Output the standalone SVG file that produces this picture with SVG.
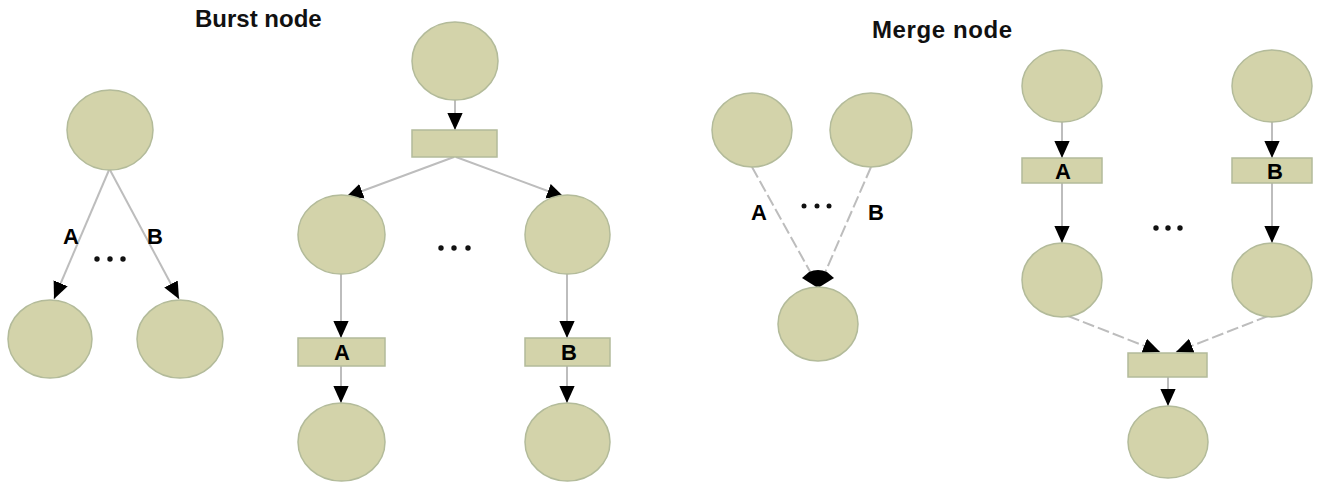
<svg xmlns="http://www.w3.org/2000/svg" width="1320" height="482" viewBox="0 0 1320 482">
<style>
.n{fill:#d3d3aa;stroke:#b3bb9a;stroke-width:1.5}
.e{fill:none;stroke:#bdbdbd;stroke-width:2;marker-end:url(#ah)}
.d{stroke-dasharray:12 4}
.t{font-family:"Liberation Sans",Arial,sans-serif;font-size:22px;font-weight:bold;fill:#000;text-anchor:middle}
.h{font-family:"Liberation Sans",Arial,sans-serif;font-size:24px;font-weight:bold;fill:#111}
.dot{fill:#111}
</style>
<defs>
<marker id="ah" markerUnits="userSpaceOnUse" markerWidth="17" markerHeight="17" viewBox="0 0 10 10" refX="10" refY="5" orient="auto">
<path d="M0,0.5 L10,5 L0,9.5 z" fill="#000"/>
</marker>
</defs>
<rect width="1320" height="482" fill="#fff"/>
<text class="h" x="195" y="27">Burst node</text>
<text class="h" x="872" y="38" style="letter-spacing:0.6px">Merge node</text>
<g id="connectors">
<line class="e" x1="109" y1="170" x2="54" y2="299"/>
<line class="e" x1="110" y1="170" x2="179" y2="299"/>
<line class="e" x1="455" y1="100" x2="455" y2="130"/>
<line class="e" x1="454" y1="157" x2="346" y2="197"/>
<line class="e" x1="456" y1="157" x2="564" y2="197"/>
<line class="e" x1="341" y1="274" x2="341" y2="338"/>
<line class="e" x1="341" y1="366" x2="341" y2="403"/>
<line class="e" x1="567" y1="274" x2="567" y2="338"/>
<line class="e" x1="567" y1="366" x2="567" y2="403"/>
<line class="d" x1="752" y1="167" x2="812" y2="275" stroke="#bdbdbd" stroke-width="2"/>
<line class="d" x1="871" y1="167" x2="824" y2="275" stroke="#bdbdbd" stroke-width="2"/>
<path d="M802,278 L809,272 Q818,268 827,272 L834,278 L818,288 z" fill="#000"/>
<line class="e" x1="1062" y1="122" x2="1062" y2="158"/>
<line class="e" x1="1272" y1="122" x2="1272" y2="158"/>
<line class="e" x1="1062" y1="183" x2="1062" y2="243"/>
<line class="e" x1="1272" y1="183" x2="1272" y2="243"/>
<line class="e d" x1="1068" y1="316" x2="1160" y2="352"/>
<line class="e d" x1="1268" y1="316" x2="1176" y2="352"/>
<line class="e" x1="1168" y1="377" x2="1168" y2="406"/>
</g>
<g id="burst1-top"><ellipse class="n" cx="110" cy="130" rx="43" ry="40"/></g>
<g id="burst1-left"><ellipse class="n" cx="50" cy="339" rx="42" ry="39"/></g>
<g id="burst1-right"><ellipse class="n" cx="180" cy="339" rx="43" ry="39"/></g>
<g id="burst1-labels">
<text class="t" x="71" y="244">A</text>
<text class="t" x="155" y="244">B</text>
<circle class="dot" cx="97" cy="259" r="2.7"/><circle class="dot" cx="110" cy="259" r="2.7"/><circle class="dot" cx="123" cy="259" r="2.7"/>
</g>
<g id="burst2-top"><ellipse class="n" cx="455" cy="61" rx="43" ry="39"/></g>
<g id="burst2-split"><rect class="n" x="412" y="130" width="85" height="27"/></g>
<g id="burst2-midleft"><ellipse class="n" cx="341.5" cy="234.5" rx="43.5" ry="39.5"/></g>
<g id="burst2-midright"><ellipse class="n" cx="567.5" cy="234.5" rx="42.5" ry="39.5"/></g>
<g id="burst2-rectA"><rect class="n" x="298" y="338" width="87" height="28"/><text class="t" x="342" y="360">A</text></g>
<g id="burst2-rectB"><rect class="n" x="525" y="338" width="85" height="28"/><text class="t" x="569" y="360">B</text></g>
<g id="burst2-botleft"><ellipse class="n" cx="341.5" cy="442" rx="43.5" ry="39"/></g>
<g id="burst2-botright"><ellipse class="n" cx="567.5" cy="442" rx="42.5" ry="39"/></g>
<g id="burst2-dots"><circle class="dot" cx="441" cy="248" r="2.7"/><circle class="dot" cx="454" cy="248" r="2.7"/><circle class="dot" cx="468" cy="248" r="2.7"/></g>
<g id="merge1-left"><ellipse class="n" cx="752" cy="130" rx="40" ry="37"/></g>
<g id="merge1-right"><ellipse class="n" cx="871" cy="130" rx="41" ry="37"/></g>
<g id="merge1-bottom"><ellipse class="n" cx="818" cy="324" rx="40" ry="37"/></g>
<g id="merge1-labels">
<text class="t" x="759" y="220">A</text>
<text class="t" x="876" y="220">B</text>
<circle class="dot" cx="804" cy="206" r="2.5"/><circle class="dot" cx="817" cy="206" r="2.5"/><circle class="dot" cx="829" cy="206" r="2.5"/>
</g>
<g id="merge2-topleft"><ellipse class="n" cx="1062" cy="86" rx="40" ry="36"/></g>
<g id="merge2-topright"><ellipse class="n" cx="1272" cy="86" rx="40" ry="36"/></g>
<g id="merge2-rectA"><rect class="n" x="1022" y="158" width="80" height="25"/><text class="t" x="1063" y="179">A</text></g>
<g id="merge2-rectB"><rect class="n" x="1232" y="158" width="80" height="25"/><text class="t" x="1275" y="179">B</text></g>
<g id="merge2-midleft"><ellipse class="n" cx="1062" cy="280" rx="40" ry="37"/></g>
<g id="merge2-midright"><ellipse class="n" cx="1272" cy="280" rx="40" ry="37"/></g>
<g id="merge2-join"><rect class="n" x="1128" y="353" width="79" height="24"/></g>
<g id="merge2-bottom"><ellipse class="n" cx="1168" cy="442" rx="40" ry="36"/></g>
<g id="merge2-dots"><circle class="dot" cx="1156" cy="228" r="2.7"/><circle class="dot" cx="1168" cy="228" r="2.7"/><circle class="dot" cx="1180" cy="228" r="2.7"/></g>
</svg>
